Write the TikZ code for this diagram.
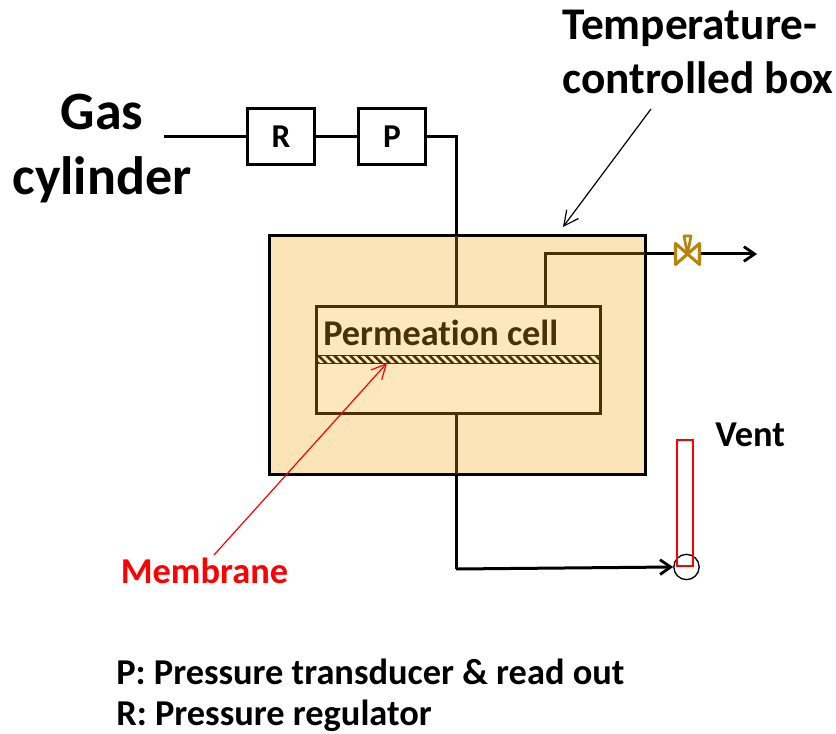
\documentclass[tikz,border=0pt]{standalone}
\usepackage{fontspec}
\setmainfont[Ligatures=CommonOff]{Carlito}
\usetikzlibrary{arrows.meta,patterns.meta}
\definecolor{boxfill}{RGB}{251,229,184}
\definecolor{cellfill}{RGB}{253,232,189}
\definecolor{brownline}{RGB}{72,48,8}
\definecolor{valvecol}{RGB}{184,132,10}
\tikzset{
  px/.style={x=0.75pt,y=-0.75pt},
  reg/.style={draw=black,line width=2.25pt,fill=white,minimum width=50.5pt,minimum height=42pt,inner sep=0pt,font=\bfseries\fontsize{25}{27}\selectfont},
  pipe/.style={draw=black,line width=2.25pt},
  brown/.style={draw=brownline,line width=2.25pt},
  arrowhead/.style={-{Straight Barb[length=8pt,width=11pt,line width=2.1pt]}},
  thinarrow/.style={line width=0.9pt,-{Straight Barb[length=11pt,width=11pt,line width=0.9pt]}},
  lbl/.style={inner sep=0pt,font=\bfseries\fontsize{27.3}{29}\selectfont,text=black},
  big/.style={inner sep=0pt,text=black},
}
\begin{document}
\begin{tikzpicture}[px]
\useasboundingbox (0,0) rectangle (836,734);
% box and cell
\node[draw=black,line width=2.25pt,fill=boxfill,minimum width=282pt,minimum height=179pt,inner sep=0pt] (tbox) at (457,355) {};
\node[brown,fill=cellfill,minimum width=213.5pt,minimum height=80pt,inner sep=0pt] (cell) at (458.5,360) {};
\node[draw=brownline,line width=1.2pt,minimum width=213pt,minimum height=6pt,inner sep=0pt,pattern={Lines[angle=-45,distance=4.2pt,line width=1.9pt]},pattern color=brownline] (mem) at (458.5,359.5) {};
% regulators
\node[reg] (R) at (281,137) {R};
\node[reg] (P) at (392,137) {P};
\coordinate (gasend) at (164,137);
\draw[pipe] (gasend) -- (R.west);
\draw[pipe] (R.east) -- (P.west);
\coordinate (pc) at (456,137);
\coordinate (boxtop) at (456,236);
\draw[pipe] (P.east) -- (pc) -- (boxtop);
\coordinate (celltop) at (456,306);
\draw[brown] (boxtop) -- (celltop);
% outlet
\coordinate (oa) at (545,306);
\coordinate (ob) at (545,254);
\coordinate (oc) at (645,254);
\draw[brown] (oa) -- (ob) -- (oc);
\coordinate (valve) at (688,254);
\coordinate (ventend) at (757,254);
\draw[pipe] (oc) -- (valve);
\draw[pipe,arrowhead] (valve) -- (ventend);
\draw[draw=valvecol,fill=white,line width=2.3pt,line join=round] (675.5,243.5) -- (699.5,264.5) -- (699.5,243.5) -- (675.5,264.5) -- cycle;
\draw[draw=valvecol,fill=none,line width=2pt,line join=round] (687.5,254) -- (684,236) -- (691,236) -- cycle;
% lower pipe
\coordinate (cellbot) at (456,413);
\coordinate (boxbot) at (456,474);
\coordinate (bend) at (456,569);
\node[draw=black,line width=1pt,circle,minimum size=19pt,inner sep=0pt] (circ) at (686.5,567) {};
\draw[brown] (cellbot) -- (boxbot);
\draw[pipe] (boxbot) -- (bend);
\draw[pipe,arrowhead] (bend) -- (circ.west);
% manometer
\node[draw=red,line width=0.9pt,minimum width=12pt,minimum height=94.5pt,inner sep=0pt] (tube) at (685,503) {};
% annotations
\node[big,align=center,font=\bfseries\fontsize{40.5}{49}\selectfont] (gas) at (102,148.5) {Gas\\cylinder};
\node[big,align=left,font=\bfseries\fontsize{34}{40}\selectfont] (tc) at (698,52) {Temperature-\\controlled box};
\coordinate (tctip) at (563,227);
\coordinate (tcstart) at (651,109);
\draw[draw=black,thinarrow] (tcstart) -- (tctip);
\node[inner sep=0pt,font=\bfseries\fontsize{27.2}{29}\selectfont,text=brownline,anchor=west] (pc2) at (323,333) {Permeation cell};
\node[lbl,anchor=west] (vent) at (715,435) {Vent};
\node[lbl,text=red] (memlbl) at (204.5,571) {Membrane};
\coordinate (memtip) at (387,363);
\coordinate (memstart) at (214,555);
\draw[draw=red,thinarrow] (memstart) -- (memtip);
\node[lbl,anchor=west] (l1) at (116,672) {P: Pressure transducer \& read out};
\node[lbl,anchor=west] (l2) at (116,716) {R: Pressure regulator};
\end{tikzpicture}
\end{document}
